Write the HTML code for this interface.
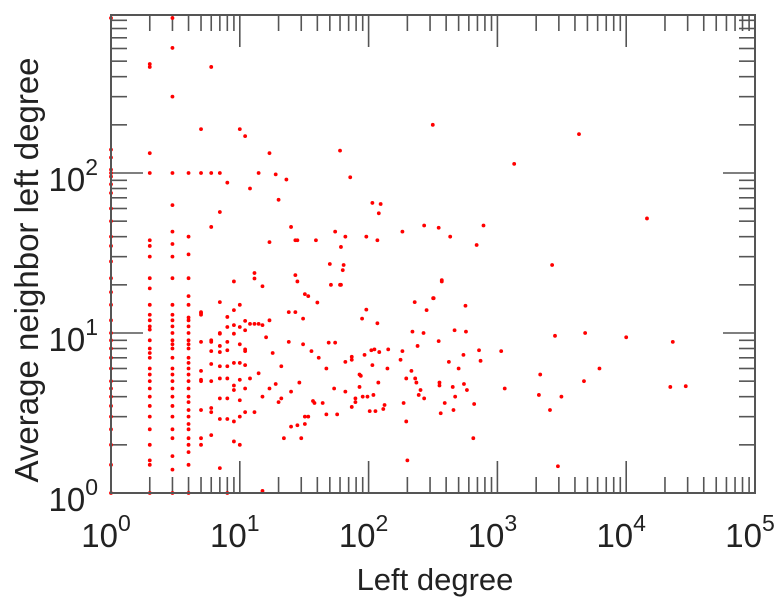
<!DOCTYPE html>
<html><head><meta charset="utf-8"><style>
html,body{margin:0;padding:0;background:#fff}
svg{display:block;font-family:"Liberation Sans",sans-serif}
</style></head><body>
<svg id="chart" width="783" height="600" viewBox="0 0 783 600" xmlns="http://www.w3.org/2000/svg">
<g id="ticks"></g>
<g id="points"></g>
<rect x="111" y="15" width="644" height="478" fill="none" stroke="#555" stroke-width="2"/>
<g id="xlabels"></g>
<g id="ylabels"></g>
<text x="435" y="590" font-size="31" text-anchor="middle" fill="#222">Left degree</text>
<text x="0" y="0" font-size="33" text-anchor="middle" fill="#222" transform="translate(38,270) rotate(-90)">Average neighbor left degree</text>
</svg>
<script>
const xTickExps = [0,1,2,3,4,5];
const yTickExps = [0,1,2];
const col1 = [930,140,125,105,100,95,85,75,60,50,40,35,28,22,18,15,12,10,9,8,7,6,5,4.5,4,3.5,3,2.5,2,1.5,1];
const col2 = [480,460,133,100,38,35,30,22,19,15,13,12,11,10.5,9,8,7.5,7,6,5.5,5,4.5,4,3.5,3,2.5,2,1.6,1.5,1];
const col3 = [930,605,300,100,63,43,36,30,22,15,13,12,11,10,9,8.5,8,7,6,5.5,5,4.5,4,3.5,3,2.5,2.2,1.7,1.4,1];
const col4 = [100,40,31,22,17,15,12.5,12,11,10,9,8.5,8,7,6.5,6,5.5,5,4.5,4,3.7,3.3,3,2.7,2.5,2.2,2,1.8,1.5,1];
const col5 = [188,100,13.5,13.3,13,8.8,5.8,5.1,5,3.3,2.2,2.0];
const col6 = [460,100,46,9,8.8,7.7,6.4,5,3.4,3.2,2.3];
const col7 = [100,57,15.6,10,9.9,8.3,7.6,6.2,5.2,3.9,2.9,1.43];
const col8 = [87,12.6,10.9,8.8,7.8,6.2,5.2,3.9,2.9,1.0];
const col9 = [21,13.9,11.2,9.9,6.5,4.7,4.4,2.8,2.1];
const scatterX = [10,11,10,10,10,10,10,10,10,10,11,11,11,11,11,11,11,12,12,12,13,13,13,13,14,14,14,15,15,15,15,16,17,17,17,17,18,19,19,20,20,21,21,22,23,24,24,25,25,25,27,27,27,28,28,28,29,30,31,31,32,32,32,34,34,36,37,38,39,40,41,44,47,47,49,50,51,54,55,55,57,60,60,61,61,63,64,66,66,66,72,74,74,74,79,79,85,85,87,89,90,93,96,96,98,102,105,107,107,109,111,113,117,117,119,120,121,124,130,133,140,142,177,183,183,187,196,196,200,215,219,228,230,235,240,245,253,267,270,270,282,315,317,320,350,350,355,355,363,370,370,390,420,430,450,456,465,470,500,545,550,565,570,580,650,660,690,720,740,780,1070,1140,1350,2100,2150,2560,2660,2800,2950,3140,4300,4700,4800,6200,10000,14500,22000,23000,29000];
const scatterY = [188,170,15,10.9,8.5,6.5,5.1,3.8,3.0,2.0,11.9,10.4,7.9,7.7,6.3,4.5,3.2,80,11.4,5.2,23.7,21.9,11.4,3.2,100,11.4,5.6,19.6,11.2,4.0,1.03,9.4,133,37,12,4.5,7.5,98,4.8,68,3.7,6.2,3.9,2.2,91,8.8,13.5,46,4.3,2.6,38,23,13.5,38,21,2.65,4.9,2.2,8.5,12.3,17.5,2.7,3.0,17,3.0,7.7,3.76,3.65,38,15.5,7,3.65,6.0,3.1,8.7,27,20,4.5,43,8.7,3.1,138,20,34.5,20,24.7,26.6,40,6.6,4.3,94,7.1,6.8,3.45,3.9,3.7,5.5,4.6,5.4,12.3,4.0,7.3,40,14,4.0,3.25,7.8,65,6.3,4.1,7.9,3.25,11.5,38,4.9,56,7.6,64,3.35,3.55,6.0,7.9,6.8,43,7.7,3.65,5.2,2.8,1.6,5.8,10.2,15.6,5.2,4.9,8.3,4.1,4.4,10,47,3.9,13.9,200,16.5,16.5,45.5,8.9,4.7,4.9,3.15,21,21.4,3.65,6.6,40,4.6,3.3,10.4,4.0,6.0,7.3,4.8,14.8,10.2,4.4,2.2,3.6,35.5,7.8,6.7,47,7.7,4.5,114,4.1,5.5,3.3,26.6,9.6,1.47,4.0,175,5.0,10,6.0,9.4,52,4.6,8.8,4.65,13.2];

const L=111,R=755,T=15,B=493;
const X_DEC=(R-L)/5, Y_DEC=160;
function xs(v){return L+Math.log10(v)*X_DEC;}
function ys(v){return B-Math.log10(v)*Y_DEC;}
const NS="http://www.w3.org/2000/svg";
function mk(tag,attrs,parent){const e=document.createElementNS(NS,tag);for(const k in attrs)e.setAttribute(k,attrs[k]);parent.appendChild(e);return e;}

const tg=document.getElementById('ticks');
const ymaxLog=(B-T)/Y_DEC;
for(let d=0;d<5;d++){for(let m=1;m<=9;m++){const v=m*Math.pow(10,d);if(m===1&&d===0)continue;const x=xs(v);const len=m===1?32:16;
 const t1=mk('line',{x1:x,x2:x,y1:B,y2:B-len,stroke:'#555','stroke-width':1.6},tg);
 
 
 const t2=mk('line',{x1:x,x2:x,y1:T,y2:T+len,stroke:'#555','stroke-width':1.6},tg);
 
 }}
for(let d=0;d<3;d++){for(let m=1;m<=9;m++){const v=m*Math.pow(10,d);if(Math.log10(v)>ymaxLog)continue;const y=ys(v);const len=m===1?32:16;
 const t1=mk('line',{x1:L,x2:L+len,y1:y,y2:y,stroke:'#555','stroke-width':1.6},tg);
 
 
 const t2=mk('line',{x1:R,x2:R-len,y1:y,y2:y,stroke:'#555','stroke-width':1.6},tg);
 
 }}

const xl=document.getElementById('xlabels');
xTickExps.forEach(e=>{const t=mk('text',{x:xs(Math.pow(10,e))-5,y:547,'font-size':33,'text-anchor':'middle',fill:'#222'},xl);
 
 
 t.appendChild(document.createTextNode('10'));
 const s=mk('tspan',{dy:-16,'font-size':23},t);s.textContent=String(e);});
const yl=document.getElementById('ylabels');
yTickExps.forEach(e=>{const t=mk('text',{x:98,y:ys(Math.pow(10,e))+18,'font-size':33,'text-anchor':'end',fill:'#222'},yl);
 
 
 t.appendChild(document.createTextNode('10'));
 const s=mk('tspan',{dy:-16,'font-size':23},t);s.textContent=String(e);});

const pg=document.getElementById('points');
function dot(x,y){const c=mk('circle',{cx:xs(x),cy:ys(y),r:1.9,fill:'#ff0000'},pg);
 
 }
[[1,col1],[2,col2],[3,col3],[4,col4],[5,col5],[6,col6],[7,col7],[8,col8],[9,col9]].forEach(([x,arr])=>arr.forEach(y=>dot(x,y)));
scatterX.forEach((x,i)=>dot(x,scatterY[i]));
</script>
</body></html>
